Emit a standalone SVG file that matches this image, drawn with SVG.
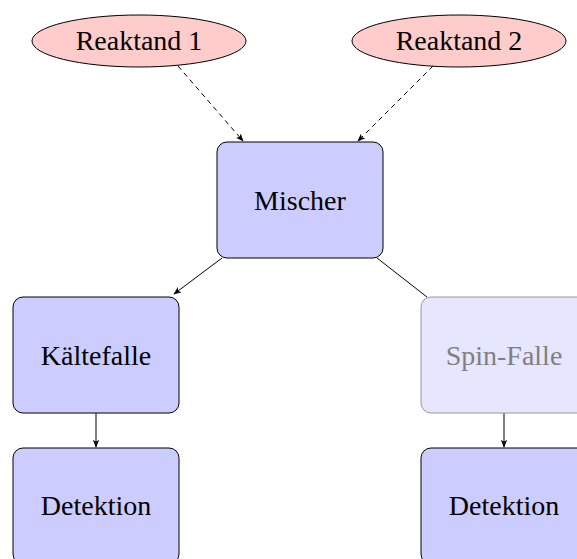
<svg xmlns="http://www.w3.org/2000/svg" width="577" height="559" viewBox="0 0 577 559">
  <defs>
    <marker id="arrow" viewBox="0 0 10 10" refX="9" refY="5" markerWidth="8" markerHeight="8" markerUnits="userSpaceOnUse" orient="auto">
      <path d="M0,1 L10,5 L0,9 L2.5,5 Z" fill="#000"/>
    </marker>
  </defs>
  <style>
    text { font-family: 'Liberation Serif', 'DejaVu Serif', serif; font-size: 28px; text-anchor: middle; fill: #000; }
    .react { fill: #ffcccc; stroke: #000; stroke-width: 1; }
    .box { fill: #ccccff; stroke: #000; stroke-width: 1; }
    .faded { fill: #e6e6ff; stroke: #999; stroke-width: 1; }
    text.faded-lbl { fill: #808080; }
    .edge { stroke: #000; stroke-width: 1; fill: none; }
    .dashed { stroke-dasharray: 5 4; }
  </style>

  <g id="connectors">
    <line class="edge dashed" x1="178" y1="66" x2="243" y2="141" marker-end="url(#arrow)"/>
    <line class="edge dashed" x1="433" y1="66" x2="358" y2="141" marker-end="url(#arrow)"/>
    <line class="edge" x1="222" y1="258" x2="174" y2="294" marker-end="url(#arrow)"/>
    <line class="edge" x1="377" y1="258" x2="427" y2="297"/>
    <line class="edge" x1="96" y1="413" x2="96" y2="447" marker-end="url(#arrow)"/>
    <line class="edge" x1="504" y1="413" x2="504" y2="447" marker-end="url(#arrow)"/>
  </g>

  <g id="reaktand1">
    <ellipse class="react" cx="139" cy="41" rx="107" ry="26"/>
    <text x="139" y="50" font-family="Liberation Serif, DejaVu Serif, serif">Reaktand 1</text>
  </g>
  <g id="reaktand2">
    <ellipse class="react" cx="459" cy="41" rx="107" ry="26"/>
    <text x="459" y="50" font-family="Liberation Serif, DejaVu Serif, serif">Reaktand 2</text>
  </g>

  <g id="mischer">
    <rect class="box" x="217" y="142" width="166" height="116" rx="10"/>
    <text x="300" y="210" font-family="Liberation Serif, DejaVu Serif, serif">Mischer</text>
  </g>

  <g id="kaeltefalle">
    <rect class="box" x="13" y="297" width="166" height="116" rx="10"/>
    <text x="96" y="365" font-family="Liberation Serif, DejaVu Serif, serif">Kältefalle</text>
  </g>

  <g id="spinfalle">
    <rect class="faded" x="421" y="297" width="166" height="116" rx="10"/>
    <text class="faded-lbl" x="504" y="365" font-family="Liberation Serif, DejaVu Serif, serif">Spin-Falle</text>
  </g>

  <g id="detektion1">
    <rect class="box" x="13" y="448" width="166" height="116" rx="10"/>
    <text x="96" y="515" font-family="Liberation Serif, DejaVu Serif, serif">Detektion</text>
  </g>

  <g id="detektion2">
    <rect class="box" x="421" y="448" width="166" height="116" rx="10"/>
    <text x="504" y="515" font-family="Liberation Serif, DejaVu Serif, serif">Detektion</text>
  </g>
</svg>
